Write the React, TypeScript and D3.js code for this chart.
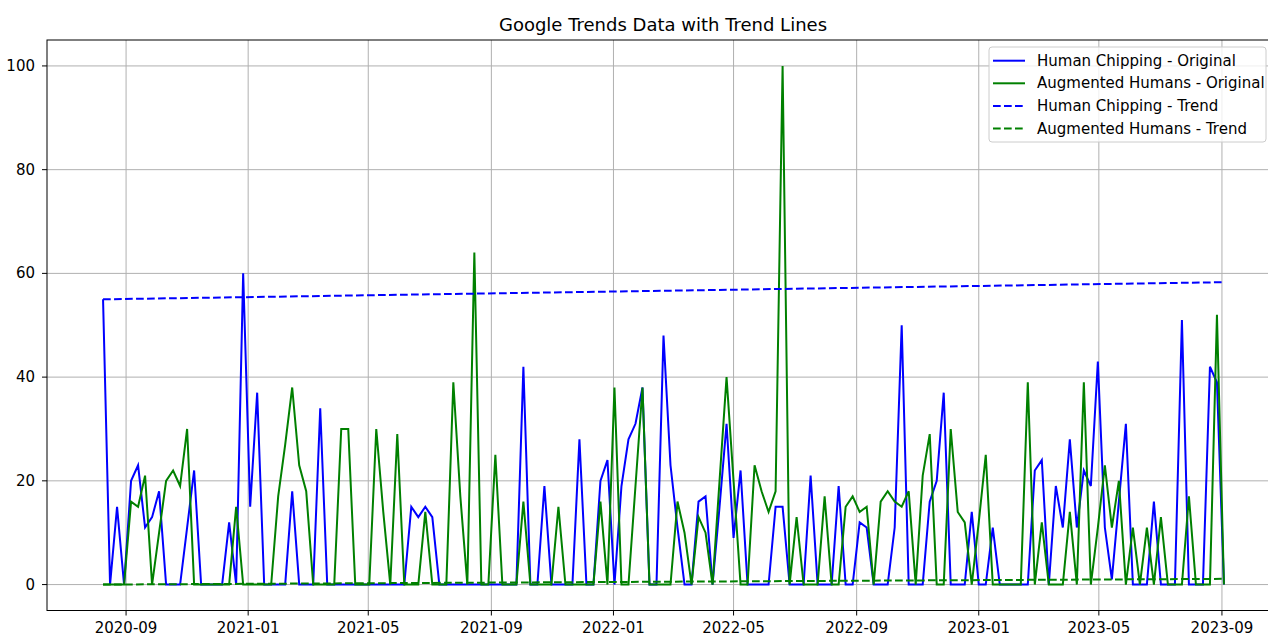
import React, { useEffect, useRef } from 'react'
import * as d3 from 'd3'

// weekly Google Trends samples (Sundays) 2020-08-09 .. 2023-09-03
const weeks = d3.timeWeek.range(new Date(2020, 7, 9), new Date(2023, 8, 4))

const humanChipping = [
  55, 0, 15, 0, 20, 23, 11, 13, 18, 0,
  0, 0, 11, 22, 0, 0, 0, 0, 12, 0,
  60, 15, 37, 0, 0, 0, 0, 18, 0, 0,
  0, 34, 0, 0, 0, 0, 0, 0, 0, 0,
  0, 0, 0, 0, 15, 13, 15, 13, 0, 0,
  0, 0, 0, 0, 0, 0, 0, 0, 0, 0,
  42, 0, 0, 19, 0, 0, 0, 0, 28, 0,
  0, 20, 24, 0, 19, 28, 31, 38, 0, 0,
  48, 23, 11, 0, 0, 16, 17, 0, 15, 31,
  9, 22, 0, 0, 0, 0, 15, 15, 0, 0,
  0, 21, 0, 0, 0, 19, 0, 0, 12, 11,
  0, 0, 0, 11, 50, 0, 0, 0, 16, 20,
  37, 0, 0, 0, 14, 0, 0, 11, 0, 0,
  0, 0, 0, 22, 24, 0, 19, 11, 28, 11,
  22, 19, 43, 11, 1, 16, 31, 0, 0, 0,
  16, 0, 0, 0, 51, 0, 0, 0, 42, 39,
  0,
]

const augmentedHumans = [
  0, 0, 0, 0, 16, 15, 21, 0, 10, 20,
  22, 19, 30, 0, 0, 0, 0, 0, 0, 15,
  0, 0, 0, 0, 0, 17, 27, 38, 23, 18,
  0, 0, 0, 0, 30, 30, 0, 0, 0, 30,
  14, 0, 29, 0, 0, 0, 14, 0, 0, 0,
  39, 17, 0, 64, 0, 0, 25, 0, 0, 0,
  16, 0, 0, 0, 0, 15, 0, 0, 0, 0,
  0, 16, 0, 38, 0, 0, 19, 38, 0, 0,
  0, 0, 16, 10, 0, 13, 10, 0, 20, 40,
  20, 0, 0, 23, 18, 14, 18, 100, 0, 13,
  0, 0, 0, 17, 0, 0, 15, 17, 14, 15,
  0, 16, 18, 16, 15, 18, 0, 21, 29, 0,
  0, 30, 14, 12, 0, 12, 25, 0, 0, 0,
  0, 0, 39, 0, 12, 0, 0, 0, 14, 0,
  39, 0, 11, 23, 11, 20, 0, 11, 0, 11,
  0, 13, 0, 0, 0, 17, 0, 0, 0, 52,
  0,
]

// trend lines: value at first week and at last week
const humanChippingTrend = [55.0, 58.3]
const augmentedHumansTrend = [0.0, 1.1]

const yTicks = [0, 20, 40, 60, 80, 100]

const legendItems = [
  {label: 'Human Chipping - Original', color: 'blue', dashed: false},
  {label: 'Augmented Humans - Original', color: 'green', dashed: false},
  {label: 'Human Chipping - Trend', color: 'blue', dashed: true},
  {label: 'Augmented Humans - Trend', color: 'green', dashed: true},
]

const font = '"DejaVu Sans", sans-serif'

export default function App() {
  const ref = useRef<SVGSVGElement>(null)

  useEffect(() => {
    const width = 1268, height = 633
    const left = 47, right = 1280, top = 40, bottom = 610.5

    const svg = d3.select(ref.current)
    svg.selectAll('*').remove()
    svg.attr('width', width).attr('height', height)

    svg.append('rect').attr('width', width).attr('height', height).attr('fill', 'white')

    const x = d3.scaleTime()
      .domain([new Date(2020, 5, 14), new Date(2023, 9, 29)])
      .range([left, right])
    const y = d3.scaleLinear().domain([-5, 105]).range([bottom, top])

    const xTicks = x.ticks(d3.timeMonth.every(4))
    const fmt = d3.timeFormat('%Y-%m')

    // grid
    svg.append('g').selectAll('line').data(xTicks).enter().append('line')
      .attr('x1', d => x(d)).attr('x2', d => x(d))
      .attr('y1', top).attr('y2', bottom)
      .attr('stroke', '#b0b0b0').attr('stroke-width', 1)
    svg.append('g').selectAll('line').data(yTicks).enter().append('line')
      .attr('x1', left).attr('x2', right)
      .attr('y1', d => y(d)).attr('y2', d => y(d))
      .attr('stroke', '#b0b0b0').attr('stroke-width', 1)

    const line = d3.line<number>()
      .x((d, i) => x(weeks[i]))
      .y(d => y(d))

    const trend = (vals: number[]) => [
      [x(weeks[0]), y(vals[0])],
      [x(weeks[weeks.length - 1]), y(vals[1])],
    ] as [number, number][]

    svg.append('path').attr('d', line(humanChipping))
      .attr('fill', 'none').attr('stroke', 'blue').attr('stroke-width', 2)
    svg.append('path').attr('d', line(augmentedHumans))
      .attr('fill', 'none').attr('stroke', 'green').attr('stroke-width', 2)
    svg.append('path').attr('d', d3.line()(trend(humanChippingTrend)))
      .attr('fill', 'none').attr('stroke', 'blue').attr('stroke-width', 2)
      .attr('stroke-dasharray', '7.7,3.3')
    svg.append('path').attr('d', d3.line()(trend(augmentedHumansTrend)))
      .attr('fill', 'none').attr('stroke', 'green').attr('stroke-width', 2)
      .attr('stroke-dasharray', '7.7,3.3')

    // frame
    svg.append('rect')
      .attr('x', left).attr('y', top)
      .attr('width', right - left).attr('height', bottom - top)
      .attr('fill', 'none').attr('stroke', 'black').attr('stroke-width', 1)

    // x axis
    const xa = svg.append('g').selectAll('g').data(xTicks).enter().append('g')
    xa.append('line')
      .attr('x1', d => x(d)).attr('x2', d => x(d))
      .attr('y1', bottom).attr('y2', bottom + 5)
      .attr('stroke', 'black')
    xa.append('text')
      .attr('x', d => x(d)).attr('y', bottom + 22.5)
      .attr('text-anchor', 'middle')
      .attr('font-family', font).attr('font-size', 15)
      .text(d => fmt(d))

    // y axis
    const ya = svg.append('g').selectAll('g').data(yTicks).enter().append('g')
    ya.append('line')
      .attr('x1', left - 5).attr('x2', left)
      .attr('y1', d => y(d)).attr('y2', d => y(d))
      .attr('stroke', 'black')
    ya.append('text')
      .attr('x', left - 12).attr('y', d => y(d))
      .attr('text-anchor', 'end').attr('dominant-baseline', 'central')
      .attr('font-family', font).attr('font-size', 15)
      .text(d => d)

    // title
    svg.append('text')
      .attr('x', 663).attr('y', 31)
      .attr('text-anchor', 'middle')
      .attr('font-family', font).attr('font-size', 18)
      .text('Google Trends Data with Trend Lines')

    // legend
    const lg = svg.append('g')
    lg.append('rect')
      .attr('x', 989).attr('y', 47).attr('width', 277).attr('height', 95)
      .attr('rx', 3)
      .attr('fill', 'white').attr('fill-opacity', 0.8)
      .attr('stroke', '#cccccc')
    const rows = lg.selectAll('g').data(legendItems).enter().append('g')
      .attr('transform', (d, i) => `translate(0,${60.7 + i * 22.6})`)
    rows.append('line')
      .attr('x1', 993).attr('x2', 1025)
      .attr('stroke', d => d.color).attr('stroke-width', 2)
      .attr('stroke-dasharray', d => d.dashed ? '7.7,3.3' : null)
    rows.append('text')
      .attr('x', 1037).attr('dominant-baseline', 'central')
      .attr('font-family', font).attr('font-size', 15)
      .text(d => d.label)
  }, [])

  return (
    <svg ref={ref} style={{position: 'absolute', left: 0, top: 0, display: 'block'}} />
  )
}
